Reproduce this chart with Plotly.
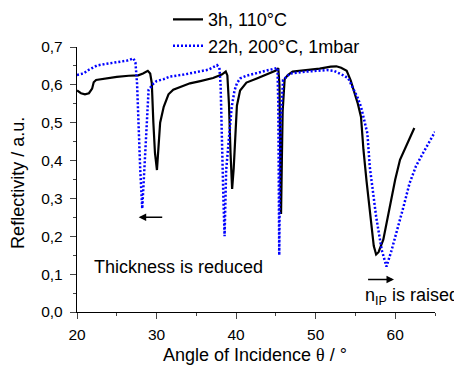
import plotly.graph_objects as go

# 3h, 110°C (black solid)
angle_3h = [20.0, 20.5, 21.0, 21.5, 21.9, 22.1, 22.4, 23.5, 25.0, 26.5, 27.7, 28.3, 28.9,
            29.2, 29.4, 29.6, 29.8, 30.05, 30.25, 30.45, 30.9, 31.5, 32.1, 33.0, 34.2, 35.5,
            37.1, 38.2, 38.7, 38.9, 39.1, 39.3, 39.5, 39.7, 39.9, 40.1, 40.5, 41.3, 42.6,
            44.3, 45.0, 45.3, 45.45, 45.55, 45.65, 45.75, 45.85, 46.1, 46.5, 47.1, 48.9,
            50.5, 51.9, 52.6, 53.2, 53.9, 54.4, 54.8, 55.3, 55.7, 56.0, 56.4, 57.0, 57.3,
            57.6, 57.9, 58.5, 59.3, 60.0, 60.6, 61.5, 62.4]
refl_3h = [0.585, 0.578, 0.575, 0.578, 0.590, 0.607, 0.613, 0.617, 0.621, 0.624, 0.625, 0.630, 0.637,
           0.630, 0.605, 0.500, 0.420, 0.375, 0.455, 0.500, 0.542, 0.575, 0.587, 0.595, 0.604, 0.610,
           0.618, 0.627, 0.635, 0.625, 0.550, 0.420, 0.325, 0.380, 0.470, 0.545, 0.585, 0.606, 0.617,
           0.631, 0.638, 0.644, 0.600, 0.400, 0.259, 0.400, 0.530, 0.615, 0.626, 0.635, 0.639,
           0.643, 0.648, 0.649, 0.645, 0.637, 0.612, 0.587, 0.550, 0.515, 0.430, 0.345, 0.226, 0.175,
           0.152, 0.158, 0.191, 0.279, 0.350, 0.402, 0.445, 0.486]

# 22h, 200°C, 1mbar (blue dotted)
angle_22h = [20.0, 20.8, 21.5, 22.5, 23.5, 24.5, 25.4, 26.3, 27.1, 27.35, 27.55, 27.75, 27.95,
             28.2, 28.45, 28.7, 29.0, 29.6, 30.0, 30.9, 31.7, 33.4, 35.5, 36.5, 37.6, 37.9,
             38.05, 38.2, 38.4, 38.55, 38.65, 38.75, 39.1, 39.45, 39.8, 40.1, 40.5, 41.3, 42.6,
             44.0, 44.7, 45.2, 45.3, 45.36, 45.42, 45.5, 45.6, 45.9, 46.8, 48.9, 50.5, 51.4,
             52.3, 53.0, 53.6, 54.1, 54.8, 55.3, 55.7, 56.1, 56.5, 56.8, 57.3, 57.6, 58.3,
             58.9, 59.5, 60.15, 61.0, 61.8, 62.6, 63.5, 64.3, 65.0]
refl_22h = [0.626, 0.630, 0.640, 0.651, 0.655, 0.658, 0.661, 0.664, 0.670, 0.658, 0.604, 0.470, 0.375,
            0.273, 0.375, 0.500, 0.587, 0.603, 0.610, 0.615, 0.622, 0.627, 0.635, 0.640, 0.652, 0.645,
            0.600, 0.450, 0.300, 0.200, 0.300, 0.375, 0.460, 0.542, 0.585, 0.604, 0.617, 0.624, 0.631,
            0.639, 0.644, 0.645, 0.550, 0.350, 0.150, 0.350, 0.500, 0.613, 0.630, 0.635, 0.637, 0.639,
            0.637, 0.631, 0.624, 0.617, 0.587, 0.565, 0.542, 0.510, 0.472, 0.384, 0.310, 0.252, 0.164,
            0.120, 0.160, 0.208, 0.275, 0.340, 0.385, 0.420, 0.452, 0.476]

x_ticks = [20, 30, 40, 50, 60]
y_ticks = [0.0, 0.1, 0.2, 0.3, 0.4, 0.5, 0.6, 0.7]

FONT = "Liberation Sans, Arial, sans-serif"

fig = go.Figure()
fig.add_trace(go.Scatter(x=angle_3h, y=refl_3h, mode="lines", name="3h, 110°C",
                         line=dict(color="black", width=2.2)))
fig.add_trace(go.Scatter(x=angle_22h, y=refl_22h, mode="lines", name="22h, 200°C, 1mbar",
                         line=dict(color="#0000ff", width=2.5, dash="2px,2px")))

# page body has an 8px default margin, so the figure is 8px smaller on each axis
fig.update_layout(
    width=454, height=357,
    margin=dict(l=69, r=27, t=39, b=53, autoexpand=False),
    paper_bgcolor="white", plot_bgcolor="white",
    separators=",.",
    font=dict(family=FONT, color="black", size=15),
    showlegend=True,
    legend=dict(x=0.2542, y=1.173, xanchor="left", yanchor="top",
                bgcolor="rgba(0,0,0,0)", font=dict(size=18), tracegroupgap=0),
    xaxis=dict(range=[20, 65], tickvals=x_ticks, ticks="outside", ticklen=6, tickwidth=1.3,
               showline=True, linecolor="black", linewidth=1.3, showgrid=False, zeroline=False,
               tickfont=dict(size=15.5), automargin=False, ticklabelstandoff=2,
               minor=dict(dtick=5, tick0=20, ticks="outside", ticklen=3, tickwidth=1.3, showgrid=False)),
    yaxis=dict(range=[0, 0.7], tickvals=y_ticks, tickformat=".1f", ticks="outside", ticklen=6, tickwidth=1.3,
               showline=True, linecolor="black", linewidth=1.3, showgrid=False, zeroline=False,
               tickfont=dict(size=15.5), automargin=False, ticklabelstandoff=4,
               minor=dict(dtick=0.05, tick0=0, ticks="outside", ticklen=3, tickwidth=1.3, showgrid=False)),
)

# axis titles
fig.add_annotation(x=0.498, y=-0.162, xref="paper", yref="paper", showarrow=False,
                   xanchor="center", yanchor="middle", font=dict(size=18),
                   text="Angle of Incidence <span style='font-family:Liberation Serif, Times New Roman, serif'>θ</span> / °")
fig.add_annotation(x=-0.165, y=0.487, xref="paper", yref="paper", showarrow=False,
                   xanchor="center", yanchor="middle", textangle=-90, font=dict(size=18),
                   text="Reflectivity / a.u.")

fig.add_annotation(x=21.88, y=0.12, xref="x", yref="y", text="Thickness is reduced",
                   showarrow=False, xanchor="left", yanchor="middle", font=dict(size=18))
fig.add_annotation(x=1.071, y=0.057, xref="paper", yref="paper", text="n<sub>IP</sub> is raised",
                   showarrow=False, xanchor="right", yanchor="middle", font=dict(size=18),
                   borderpad=0)
# arrows
fig.add_annotation(x=27.75, y=0.25, ax=30.9, ay=0.25, xref="x", yref="y", axref="x", ayref="y",
                   text="", showarrow=True, arrowhead=2, arrowsize=1, arrowwidth=1.5, arrowcolor="black")
fig.add_annotation(x=59.85, y=0.086, ax=56.4, ay=0.086, xref="x", yref="y", axref="x", ayref="y",
                   text="", showarrow=True, arrowhead=2, arrowsize=1, arrowwidth=1.5, arrowcolor="black")

fig.write_html("out.html")
